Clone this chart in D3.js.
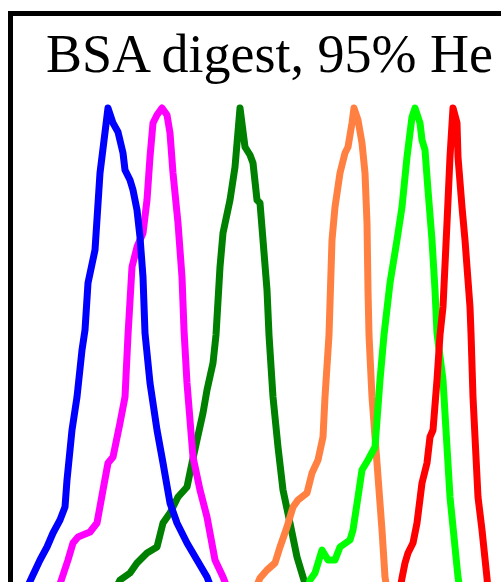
<!DOCTYPE html>
<html>
<head>
<meta charset="utf-8">
<script src="https://cdn.jsdelivr.net/npm/d3@7"></script>
<style>
  html, body { margin: 0; padding: 0; background: #fff; overflow: hidden; }
  svg { display: block; }
</style>
</head>
<body>
<div id="viz"></div>
<script>
var width = 501;
var height = 582;

var title = 'BSA digest, 95% He';

// drift time (arb.) vs normalized intensity (%) for each extracted ion
var blueTrace = [[3.2,3.6],[4.4,6.2],[6.0,9.6],[7.4,12.2],[8.6,15.0],[10.0,17.6],[11.0,20.2],[11.4,25.6],[12.4,35.6],[13.4,42.2],[14.4,51.6],[15.0,55.6],[15.6,65.0],[17.0,71.6],[18.0,87.0],[19.6,100],[20.6,97.0],[21.6,95.2],[22.6,91.0],[23.0,87.6],[24.0,85.6],[24.6,83.6],[25.4,79.6],[26.0,74.2],[26.6,66.2],[27.0,55.0],[28.0,45.0],[29.4,35.6],[30.6,29.0],[32.0,21.0],[33.4,17.0],[35.4,13.0],[37.4,9.6],[39.4,6.2],[40.4,3.6]];
var magentaTrace = [[9.6,3.6],[10.4,6.0],[11.6,9.6],[12.6,13.0],[13.6,14.2],[16.0,15.2],[17.4,17.0],[18.6,23.6],[19.6,29.0],[20.6,30.2],[22.0,37.0],[23.0,42.2],[23.6,54.6],[24.4,68.2],[25.4,72.2],[26.6,75.0],[27.4,81.6],[28.0,90.2],[28.6,97.0],[29.4,98.6],[30.4,100],[31.4,98.6],[32.0,95.0],[32.6,87.0],[33.6,77.0],[34.4,66.2],[34.8,55.6],[35.4,45.0],[36.6,30.2],[38.0,23.6],[39.4,18.2],[41.0,9.6],[42.6,6.2],[43.6,3.6]];
var darkGreenTrace = [[21.0,3.6],[22.0,5.6],[24.0,7.0],[25.4,9.0],[27.4,11.0],[29.4,12.2],[30.6,17.0],[32.0,19.0],[33.6,22.2],[35.4,24.2],[36.4,29.0],[37.4,33.6],[38.6,39.0],[39.4,43.6],[40.6,49.0],[41.2,54.6],[42.0,68.2],[42.6,75.0],[44.0,81.6],[45.0,88.2],[46.0,100],[47.0,92.2],[48.0,90.6],[48.6,89.0],[49.4,81.6],[50.0,81.0],[50.6,73.6],[51.4,63.6],[51.8,54.6],[52.6,42.2],[53.6,32.2],[54.6,23.6],[56.0,17.0],[57.4,10.2],[58.6,6.2],[59.4,3.6]];
var orangeTrace = [[49.0,3.6],[50.0,6.0],[51.4,7.6],[53.0,9.0],[54.0,12.2],[55.4,16.2],[56.6,20.2],[57.6,21.6],[59.4,23.0],[60.4,27.0],[61.6,29.6],[62.6,34.2],[63.0,42.2],[63.8,54.6],[64.4,73.6],[65.0,80.2],[66.0,87.0],[67.0,91.0],[67.6,92.2],[68.4,97.0],[68.8,100],[69.6,97.6],[70.4,93.0],[71.0,87.0],[71.4,77.0],[71.6,63.6],[71.8,54.6],[72.4,42.2],[73.4,29.0],[74.4,15.6],[75.0,6.2],[75.4,3.6]];
var greenTrace = [[59.6,3.6],[60.0,5.6],[61.0,7.0],[62.4,11.6],[63.6,9.6],[65.0,9.6],[66.0,12.2],[68.0,13.6],[68.6,15.6],[69.6,22.2],[70.4,27.6],[71.6,29.6],[73.0,32.2],[74.0,45.6],[74.8,54.6],[76.0,65.0],[77.4,73.6],[78.4,80.2],[79.4,90.2],[80.4,98.2],[81.0,100],[82.0,97.0],[82.4,93.6],[83.0,91.6],[83.6,83.6],[84.4,73.6],[85.0,63.6],[85.4,55.0],[86.6,45.6],[87.4,32.2],[88.0,22.2],[89.0,12.2],[89.6,6.2],[90.0,3.6]];
var redTrace = [[78.0,3.6],[78.4,6.0],[79.0,9.0],[79.6,11.0],[80.6,13.0],[81.4,17.0],[82.4,25.0],[83.4,29.0],[84.0,34.2],[84.6,35.6],[85.4,45.6],[86.0,54.6],[86.6,60.2],[87.4,77.0],[88.0,90.2],[88.6,100],[89.4,97.0],[89.6,90.2],[90.4,80.2],[91.0,73.6],[92.0,60.2],[92.2,55.0],[92.6,42.2],[93.6,22.2],[94.4,15.6],[95.4,6.0],[95.6,3.6]];

// draw order matters where traces cross
var traces = [
  {name: 'darkgreen', color: '#008000', points: darkGreenTrace},
  {name: 'orange', color: '#ff8040', points: orangeTrace},
  {name: 'green', color: '#00ff00', points: greenTrace},
  {name: 'red', color: '#ff0000', points: redTrace},
  {name: 'magenta', color: '#ff00ff', points: magentaTrace},
  {name: 'blue', color: '#0000ff', points: blueTrace}
];

var xScale = d3.scaleLinear().domain([0, 100]).range([10, 510]);
var yScale = d3.scaleLinear().domain([0, 100]).range([608, 108]);

var svg = d3.select('#viz').append('svg')
  .attr('width', width)
  .attr('height', height);

// frame (only top and left edges are in view)
svg.append('path')
  .attr('d', 'M10.5,' + (height + 10) + 'V13.5H' + (width + 10))
  .attr('fill', 'none')
  .attr('stroke', '#000')
  .attr('stroke-width', 5);

svg.append('text')
  .attr('x', 46)
  .attr('y', 72)
  .attr('font-family', '"Liberation Serif", "Times New Roman", serif')
  .attr('font-size', 54)
  .attr('fill', '#000')
  .text(title);

var line = d3.line()
  .x(function(d) { return xScale(d[0]); })
  .y(function(d) { return yScale(d[1]); });

svg.append('g')
  .selectAll('path')
  .data(traces)
  .enter().append('path')
  .attr('class', function(d) { return 'trace ' + d.name; })
  .attr('d', function(d) { return line(d.points); })
  .attr('fill', 'none')
  .attr('stroke', function(d) { return d.color; })
  .attr('stroke-width', 7)
  .attr('stroke-linejoin', 'round')
  .attr('stroke-linecap', 'round');
</script>
</body>
</html>
